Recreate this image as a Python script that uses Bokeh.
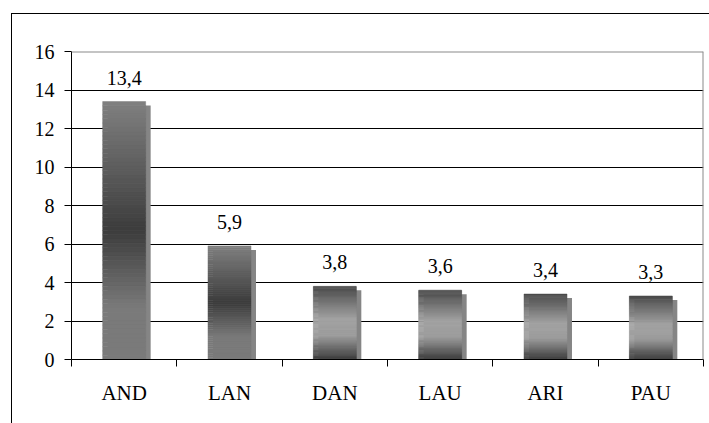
from bokeh.plotting import figure
from bokeh.models import FixedTicker, Range1d, Span, ColumnDataSource
from bokeh.core.properties import value
from bokeh.embed import file_html
from bokeh.resources import INLINE

# ---- data ----
categories = ["AND", "LAN", "DAN", "LAU", "ARI", "PAU"]
values = [13.4, 5.9, 3.8, 3.6, 3.4, 3.3]
y_ticks = [0, 2, 4, 6, 8, 10, 12, 14, 16]
# gradient style per bar: "dark_mid" = light ends / dark middle, "light_mid" = dark ends / light middle
styles = ["dark_mid", "dark_mid", "light_mid", "light_mid", "light_mid", "light_mid"]

FONT = "'Liberation Serif', 'Times New Roman', serif"
n = len(categories)

p = figure(width=709, height=423, output_backend="svg", toolbar_location=None,
           x_range=Range1d(0, n), y_range=Range1d(0, 16),
           min_border_left=71, min_border_right=6, min_border_top=51, min_border_bottom=64)
p.outline_line_color = None
p.background_fill_color = "white"
p.border_fill_color = None
# outer chart frame (left and top edges; right/bottom lie outside the picture)
p.styles = {
    "background-color": "white",
    "background-image": "linear-gradient(#000, #000), linear-gradient(#000, #000)",
    "background-size": "1px 100%, 100% 1px",
    "background-position": "11px 13px, 11px 13px",
    "background-repeat": "no-repeat, no-repeat",
}

# grid
p.xgrid.visible = False
p.ygrid.ticker = FixedTicker(ticks=y_ticks)
p.ygrid.grid_line_color = "black"
p.ygrid.grid_line_width = 1

# axes
p.yaxis.ticker = FixedTicker(ticks=y_ticks)
p.yaxis.major_tick_out = 7
p.yaxis.major_tick_in = 0
p.yaxis.minor_tick_line_color = None
p.yaxis.axis_line_color = "black"
p.yaxis.major_label_text_font = FONT
p.yaxis.major_label_text_font_size = "20px"
p.yaxis.major_label_text_color = "black"
p.yaxis.major_label_standoff = 10

centers = [i + 0.5 for i in range(n)]
p.xaxis.ticker = FixedTicker(ticks=centers, minor_ticks=list(range(n + 1)))
p.xaxis.major_label_overrides = {c: lab for c, lab in zip(centers, categories)}
p.xaxis.major_tick_out = 0
p.xaxis.major_tick_in = 0
p.xaxis.minor_tick_out = 7
p.xaxis.minor_tick_in = 0
p.xaxis.minor_tick_line_color = "black"
p.xaxis.axis_line_color = "black"
p.xaxis.major_label_text_font = FONT
p.xaxis.major_label_text_font_size = "21px"
p.xaxis.major_label_text_color = "black"
p.xaxis.major_label_standoff = 14

# plot area border (top + right, gray)
p.add_layout(Span(location=16, dimension="width", line_color="#8a8a8a", line_width=2))
p.add_layout(Span(location=n, dimension="height", line_color="#8a8a8a", line_width=2))

# bars
bar_w = 0.408
px_x = 1.0 / 105.33   # one pixel in x data units
px_y = 16.0 / 308.0   # one pixel in y data units

# shadows
sh = dict(left=[c - bar_w / 2 + 5 * px_x for c in centers],
          right=[c + bar_w / 2 + 5 * px_x for c in centers],
          top=[v - 4 * px_y for v in values],
          bottom=[0] * n)
p.quad(source=ColumnDataSource(sh), left="left", right="right", top="top", bottom="bottom",
       fill_color="#858585", line_color=None)

def shade(style, f):
    # f: 0 at top, 1 at bottom
    if style == "dark_mid":
        if f < 0.5:
            g = 0x80 + (0x3c - 0x80) * (f / 0.5)
        else:
            t = min((f - 0.5) / 0.3, 1.0)
            g = 0x3c + (0x7a - 0x3c) * t
    else:
        if f < 0.45:
            g = 0x48 + (0xa4 - 0x48) * (f / 0.45)
        elif f < 0.68:
            g = 0xa4 - (0xa4 - 0x9e) * ((f - 0.45) / 0.23)
        else:
            g = 0x9e + (0x3c - 0x9e) * ((f - 0.68) / 0.32)
    g = int(round(g))
    return "#%02x%02x%02x" % (g, g, g)

steps = 60
L, R, T, B, C = [], [], [], [], []
for c, v, st in zip(centers, values, styles):
    for k in range(steps):
        f0 = k / steps
        f1 = (k + 1) / steps
        L.append(c - bar_w / 2)
        R.append(c + bar_w / 2)
        T.append(v * (1 - f0))
        B.append(v * (1 - f1))
        C.append(shade(st, (f0 + f1) / 2))
p.quad(source=ColumnDataSource(dict(left=L, right=R, top=T, bottom=B, color=C)),
       left="left", right="right", top="top", bottom="bottom",
       fill_color="color", line_color="color", line_width=0.5)

# value labels
labels = [f"{v:.1f}".replace(".", ",") for v in values]
p.text(x=centers, y=values, text=labels, y_offset=-24,
       text_font=value(FONT), text_font_size="20px", text_color="black",
       text_align="center", text_baseline="alphabetic")

open("out.html", "w").write(file_html(p, INLINE))
